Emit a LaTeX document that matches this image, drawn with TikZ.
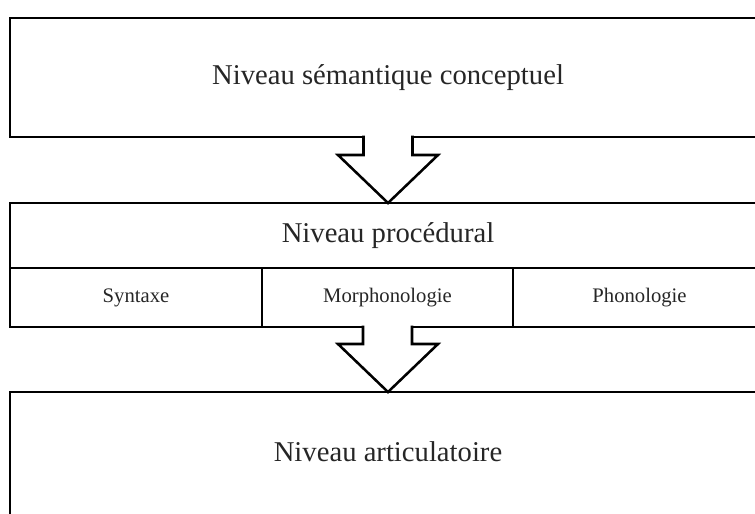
\documentclass[tikz,border=0pt]{standalone}
\usepackage{fontspec}
\setmainfont{Liberation Serif}
\usetikzlibrary{calc}
\usetikzlibrary{positioning}
\tikzstyle{levelbox}=[draw=black,line width=1.9pt,inner sep=0pt,outer sep=0pt,anchor=north west,minimum width=567pt]
\tikzstyle{cellbox}=[draw=black,line width=1.9pt,inner sep=0pt,outer sep=0pt,minimum height=44.25pt]
\tikzstyle{bigtext}=[font=\fontsize{21.5}{24}\selectfont,text=black!85]
\tikzstyle{smalltext}=[font=\fontsize{15.5}{18}\selectfont,text=black!85]
\tikzstyle{blockarrow}=[draw=black,fill=white,line width=1.9pt,line join=miter]
\newcommand{\levelarrow}[2]{%
  \draw[blockarrow] ($(#1.south)+(-24.5,-1.4)$) |- ($(#2.north)+(-50,-48)$) -- (#2.north)
    -- ($(#2.north)+(50,-48)$) -| ($(#1.south)+(24.5,-1.4)$);
}

\begin{document}
\begin{tikzpicture}[x=0.75pt,y=-0.75pt]
  \clip (0,0) rectangle (755,513);
  % niveaux
  \node[levelbox,minimum height=89.25pt,bigtext] (semant) at (10,18) {Niveau s\'emantique conceptuel};
  \node[levelbox,minimum height=48.75pt,bigtext] (proc) at (10,203) {Niveau proc\'edural};
  \node[cellbox,minimum width=189pt,smalltext,below right=0pt and 0pt of proc.south west] (syntaxe) {Syntaxe};
  \node[cellbox,minimum width=188.25pt,smalltext,right=0pt of syntaxe] (morpho) {Morphonologie};
  \node[cellbox,minimum width=189.75pt,smalltext,right=0pt of morpho] (phono) {Phonologie};
  \node[levelbox,minimum height=120pt] (artic) at (10,392) {};
  \node[bigtext] (articlabel) at (388,452) {Niveau articulatoire};
  % fleches
  \levelarrow{semant}{proc}
  \levelarrow{morpho}{artic}
\end{tikzpicture}
\end{document}
